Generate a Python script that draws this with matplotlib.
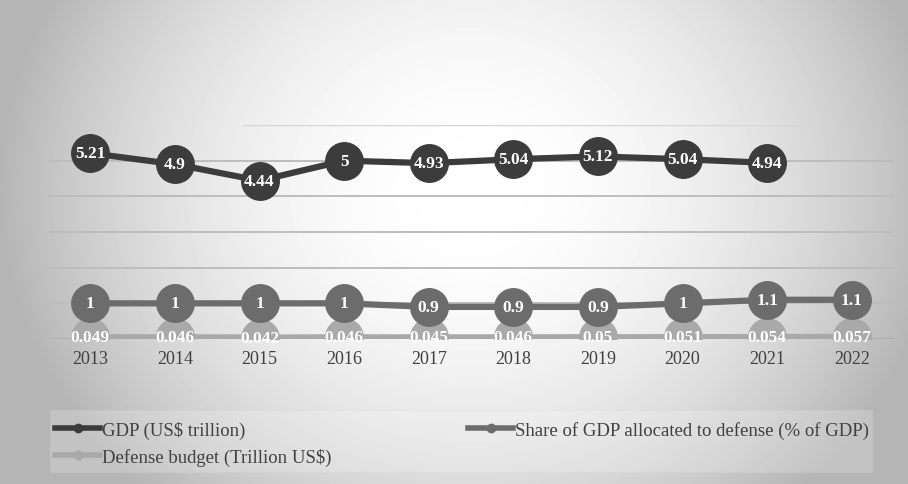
import numpy as np
import matplotlib
matplotlib.use("Agg")
import matplotlib.pyplot as plt

years = ["2013", "2014", "2015", "2016", "2017", "2018", "2019", "2020", "2021", "2022"]
gdp = [5.21, 4.9, 4.44, 5, 4.93, 5.04, 5.12, 5.04, 4.94]
share = [1, 1, 1, 1, 0.9, 0.9, 0.9, 1, 1.1, 1.1]
budget = [0.049, 0.046, 0.042, 0.046, 0.045, 0.046, 0.05, 0.051, 0.054, 0.057]

plt.rcParams['font.family'] = ['Liberation Serif', 'DejaVu Serif']

fig = plt.figure(figsize=(9.08, 4.85), dpi=100)

# radial gray background
bg = fig.add_axes([0, 0, 1, 1], zorder=-10)
yy, xx = np.mgrid[0:485, 0:908]
r = np.sqrt(((xx - 470) / 470.0) ** 2 + ((yy - 190) / 420.0) ** 2)
shade = 1.0 - 0.29 * np.clip(r, 0, 1) ** 2
bg.imshow(shade, cmap='gray', vmin=0, vmax=1, aspect='auto', extent=[0, 908, 485, 0])
bg.add_patch(plt.Rectangle((50, 411), 822, 62, facecolor='white', alpha=0.2,
                           edgecolor='#d4d4d4', lw=1))
bg.set_xlim(0, 908)
bg.set_ylim(485, 0)
bg.axis('off')

ax = fig.add_axes([48 / 908, 1 - 340 / 485, 846 / 908, 214 / 485])
ax.patch.set_alpha(0)
x = np.arange(len(years))

for v in range(1, 6):
    ax.axhline(v, color='#bdbdbd', lw=1.4, zorder=0)
ax.plot([1.8, 8.6], [6, 6], color='#d6d6d6', lw=1, zorder=0)
ax.axhline(0, color='#b0b0b0', lw=1.4, zorder=0)

l3, = ax.plot(x, budget, color='#a9a9a9', lw=4.5, marker='o', ms=27, zorder=2,
              label='Defense budget (Trillion US$)')
l2, = ax.plot(x, share, color='#6c6c6c', lw=4.5, marker='o', ms=27, zorder=3,
              label='Share of GDP allocated to defense (% of GDP)')
l1, = ax.plot(x[:len(gdp)], gdp, color='#3c3c3c', lw=4.5, marker='o', ms=27, zorder=4,
              label='GDP (US$ trillion)')

for xs, ys, z in [(x, budget, 5), (x, share, 6), (x[:len(gdp)], gdp, 7)]:
    for xi, yi in zip(xs, ys):
        ax.text(xi, yi, f"{yi:g}", ha='center', va='center', color='white',
                fontsize=12.5, fontweight='bold', zorder=z)

ax.set_xlim(-0.5, len(years) - 0.5)
ax.set_ylim(0, 6)
ax.set_xticks(x)
ax.set_xticklabels(years, fontsize=13, color='#404040')
ax.set_yticks([])
ax.tick_params(axis='x', length=0, pad=8)
for s in ax.spines.values():
    s.set_visible(False)

hl = [plt.Line2D([], [], color=l.get_color(), lw=4, marker='o', ms=6) for l in (l1, l3, l2)]
fig.legend(hl, [l1.get_label(), l3.get_label(), l2.get_label()], ncol=2,
           loc='upper left', bbox_to_anchor=(55 / 908, 1 - 422 / 485), frameon=False,
           fontsize=13.5, handlelength=2.4, handletextpad=0.1, columnspacing=7.3,
           labelspacing=0.45, borderaxespad=0, borderpad=0, labelcolor='#404040')

fig.savefig('out.png', dpi=100)
